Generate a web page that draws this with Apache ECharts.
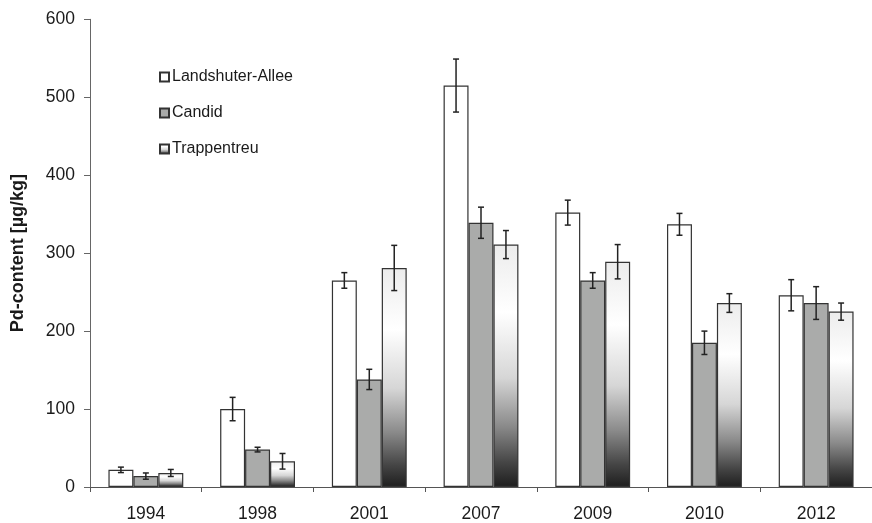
<!DOCTYPE html>
<html>
<head>
<meta charset="utf-8">
<title>Pd-content by year</title>
<script src="https://cdn.jsdelivr.net/npm/echarts@6/dist/echarts.min.js"></script>
<style>
  html, body { margin: 0; padding: 0; background: #ffffff; }
  #chart { width: 872px; height: 523px; }
</style>
</head>
<body>
<div id="chart"></div>
<script>
// Sampling years (categories)
var years = ['1994', '1998', '2001', '2007', '2009', '2010', '2012'];

// Mean Pd-content per site [µg/kg] and the half-length of the error bars
var landshuter    = [22, 100, 265, 515, 352, 337, 246];
var landshuterErr = [3.5, 15, 10, 34, 16, 14, 20];

var candid        = [14, 48, 138, 339, 265, 185, 236];
var candidErr     = [4, 3, 13, 20, 10, 15, 21];

var trappentreu    = [18, 33, 281, 311, 289, 236, 225];
var trappentreuErr = [4.5, 10, 29, 18, 22, 12, 11];

// Value-axis ticks
var yMin = 0, yMax = 600, yStep = 100;

var FONT = '"Liberation Sans", Arial, sans-serif';
var GAP = 0.33;            // share of a category left empty
var EDGE = '#333333';

var trappentreuFill = {
  type: 'linear', x: 0, y: 0, x2: 0, y2: 1,
  colorStops: [
    { offset: 0.00, color: '#ececec' },
    { offset: 0.28, color: '#ffffff' },
    { offset: 0.55, color: '#d6d6d6' },
    { offset: 0.75, color: '#8a8a8a' },
    { offset: 0.90, color: '#454545' },
    { offset: 1.00, color: '#1e1e1e' }
  ]
};

function errorSeries(values, errs, slot) {
  var data = values.map(function (v, i) { return [i, v, errs[i]]; });
  return {
    type: 'custom',
    z: 10,
    silent: true,
    data: data,
    encode: { x: 0, y: 1 },
    renderItem: function (params, api) {
      var ci = api.value(0), v = api.value(1), e = api.value(2);
      var band = api.size([1, 0])[0];
      var bw = band * (1 - GAP) / 3;
      var x = api.coord([ci, v])[0] + (slot - 1) * bw;
      var yTop = api.coord([ci, v + e])[1];
      var yBot = api.coord([ci, v - e])[1];
      var cap = 3;
      var style = { stroke: '#222222', lineWidth: 1.5 };
      return {
        type: 'group',
        children: [
          { type: 'line', shape: { x1: x, y1: yTop, x2: x, y2: yBot }, style: style },
          { type: 'line', shape: { x1: x - cap, y1: yTop, x2: x + cap, y2: yTop }, style: style },
          { type: 'line', shape: { x1: x - cap, y1: yBot, x2: x + cap, y2: yBot }, style: style }
        ]
      };
    }
  };
}

var chart = echarts.init(document.getElementById('chart'), null, { renderer: 'canvas' });

chart.setOption({
  animation: false,
  backgroundColor: '#ffffff',
  textStyle: { fontFamily: FONT },
  grid: { left: 90, right: -5.5, top: 19.3, bottom: 34.5, containLabel: false },
  legend: {
    orient: 'vertical',
    left: 154,
    top: 63,
    itemWidth: 9,
    itemHeight: 9,
    itemGap: 18,
    icon: 'rect',
    selectedMode: false,
    data: ['Landshuter-Allee', 'Candid', 'Trappentreu'],
    textStyle: { fontFamily: FONT, fontSize: 16, color: '#1a1a1a', lineHeight: 18, padding: [0, 0, 0, -2] }
  },
  xAxis: {
    type: 'category',
    data: years,
    axisLine: { lineStyle: { color: '#555555', width: 1 } },
    axisTick: { show: true, interval: 0, length: 5, lineStyle: { color: '#555555' } },
    axisLabel: { fontFamily: FONT, fontSize: 17.5, color: '#1a1a1a', margin: 18 }
  },
  yAxis: {
    type: 'value',
    min: yMin,
    max: yMax,
    interval: yStep,
    name: 'Pd-content [µg/kg]',
    nameLocation: 'middle',
    nameGap: 63,
    nameTextStyle: { fontFamily: FONT, fontSize: 18, fontWeight: 'bold', color: '#1a1a1a' },
    splitLine: { show: false },
    axisLine: { show: true, lineStyle: { color: '#666666', width: 1 } },
    axisTick: { show: true, length: 6, lineStyle: { color: '#666666' } },
    axisLabel: { fontFamily: FONT, fontSize: 17.5, color: '#1a1a1a', margin: 15 }
  },
  series: [
    {
      name: 'Landshuter-Allee',
      type: 'bar',
      data: landshuter,
      barGap: '0%',
      barCategoryGap: (GAP * 100) + '%',
      itemStyle: { color: '#ffffff', borderColor: EDGE, borderWidth: 1.2 }
    },
    {
      name: 'Candid',
      type: 'bar',
      data: candid,
      barGap: '0%',
      barCategoryGap: (GAP * 100) + '%',
      itemStyle: { color: '#aaabaa', borderColor: EDGE, borderWidth: 1.2 }
    },
    {
      name: 'Trappentreu',
      type: 'bar',
      data: trappentreu,
      barGap: '0%',
      barCategoryGap: (GAP * 100) + '%',
      itemStyle: { color: trappentreuFill, borderColor: EDGE, borderWidth: 1.2 }
    },
    errorSeries(landshuter, landshuterErr, 0),
    errorSeries(candid, candidErr, 1),
    errorSeries(trappentreu, trappentreuErr, 2)
  ]
});
</script>
</body>
</html>
